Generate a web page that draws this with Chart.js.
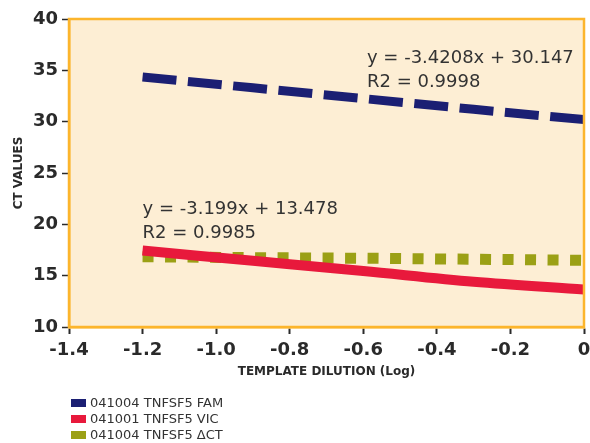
<!DOCTYPE html>
<html>
<head>
<meta charset="utf-8">
<script src="https://cdn.jsdelivr.net/npm/chart.js@4/dist/chart.umd.min.js"></script>
<style>
  html, body { margin: 0; padding: 0; background: #fff; }
</style>
</head>
<body>
<canvas id="canvas" width="590" height="443"></canvas>
<script>
'use strict'
/* global Chart */

const dilution = [-1.2, -0.9, -0.6, -0.3, 0]
const famCt = [34.35, 33.3, 32.25, 31.2, 30.2]
const vicCt = [17.45, 16.45, 15.45, 14.4, 13.65]
const deltaCt = [16.85, 16.75, 16.7, 16.6, 16.5]
const seriesLabels = ['041004 TNFSF5 FAM', '041001 TNFSF5 VIC', '041004 TNFSF5 \u0394CT']
const xTickLabels = ['-1.4', '-1.2', '-1.0', '-0.8', '-0.6', '-0.4', '-0.2', '0']
const yTickLabels = ['10', '15', '20', '25', '30', '35', '40']
const fitText = [
  ['y = -3.4208x + 30.147', 'R2 = 0.9998'],
  ['y = -3.199x + 13.478', 'R2 = 0.9985']
]

const FONT = '"DejaVu Sans", sans-serif'
const INK = '#2a2a2a'
const FRAME = '#fcb52c'

const toPoints = values => values.map((v, i) => ({ x: dilution[i], y: v }))

// background + orange frame round the plot area
const plotFrame = {
  id: 'plotFrame',
  beforeDraw (chart) {
    const { ctx, chartArea: a } = chart
    ctx.save()
    ctx.fillStyle = '#fdeed4'
    ctx.fillRect(a.left, a.top, a.right - a.left, a.bottom - a.top)
    ctx.restore()
  },
  afterDatasetsDraw (chart) {
    const { ctx, chartArea: a } = chart
    ctx.save()
    ctx.strokeStyle = FRAME
    ctx.lineWidth = 2.5
    ctx.strokeRect(a.left, a.top, a.right - a.left, a.bottom - a.top)
    ctx.restore()
  }
}

// regression text, anchored in data units
const fitLabels = {
  id: 'fitLabels',
  afterDatasetsDraw (chart, args, opts) {
    const { ctx, scales: { x, y } } = chart
    ctx.save()
    ctx.font = '18px ' + FONT
    ctx.fillStyle = '#333'
    ctx.textBaseline = 'alphabetic'
    opts.items.forEach(item => {
      const px = x.getPixelForValue(item.at[0])
      const py = y.getPixelForValue(item.at[1])
      item.lines.forEach((line, i) => ctx.fillText(line, px, py + i * 24))
    })
    ctx.restore()
  }
}

// stacked legend under the axis title
const listLegend = {
  id: 'listLegend',
  afterDraw (chart) {
    const ctx = chart.ctx
    ctx.save()
    ctx.font = '13px ' + FONT
    ctx.textBaseline = 'middle'
    chart.data.datasets.forEach((ds, i) => {
      const y = 403 + i * 16
      ctx.fillStyle = ds.borderColor
      ctx.fillRect(71, y - 4, 15, 8)
      ctx.fillStyle = '#333'
      ctx.fillText(ds.label, 90, y + 0.5)
    })
    ctx.restore()
  }
}

const ctx = document.getElementById('canvas').getContext('2d')
new Chart(ctx, {
  type: 'line',
  data: {
    datasets: [
      {
        label: seriesLabels[0],
        data: toPoints(famCt),
        borderColor: '#1b1f73',
        borderWidth: 9,
        borderDash: [34, 11.5],
        borderCapStyle: 'butt'
      },
      {
        label: seriesLabels[1],
        data: toPoints(vicCt),
        borderColor: '#e8193c',
        borderWidth: 10,
        cubicInterpolationMode: 'monotone'
      },
      {
        label: seriesLabels[2],
        data: toPoints(deltaCt),
        borderColor: '#9ba015',
        borderWidth: 11,
        borderDash: [11, 11.5],
        borderCapStyle: 'butt'
      }
    ]
  },
  options: {
    responsive: false,
    animation: false,
    events: [],
    elements: { point: { radius: 0 }, line: { fill: false } },
    layout: { padding: { top: 19, right: 6, bottom: 64, left: 0 } },
    plugins: {
      legend: { display: false },
      tooltip: { enabled: false },
      fitLabels: {
        items: [
          { at: [-0.59, 35.7], lines: fitText[0] },
          { at: [-1.2, 21.05], lines: fitText[1] }
        ]
      }
    },
    scales: {
      x: {
        type: 'linear',
        min: -1.4,
        max: 0,
        afterFit: scale => {
          scale.height = 52
          scale.paddingLeft = 0
          scale.paddingRight = 0
        },
        ticks: {
          stepSize: 0.2,
          padding: 6,
          color: INK,
          font: { family: FONT, size: 18, weight: 'bold' },
          callback: (v, i) => xTickLabels[i]
        },
        grid: { drawOnChartArea: false, tickLength: 7, tickColor: INK, tickWidth: 2 },
        border: { color: FRAME, width: 2.5 },
        title: {
          display: true,
          text: 'TEMPLATE DILUTION (Log)',
          color: INK,
          padding: { top: 0, bottom: 0 },
          font: { family: FONT, size: 12, weight: 'bold' }
        }
      },
      y: {
        min: 10,
        max: 40,
        afterFit: scale => { scale.width = 69 },
        ticks: {
          stepSize: 5,
          padding: 4,
          color: INK,
          font: { family: FONT, size: 18, weight: 'bold' },
          callback: (v, i) => yTickLabels[i]
        },
        grid: { drawOnChartArea: false, tickLength: 7, tickColor: INK, tickWidth: 1.5 },
        border: { color: FRAME, width: 2.5 },
        title: {
          display: true,
          text: 'CT VALUES',
          color: INK,
          padding: { top: 11.5, bottom: 0 },
          font: { family: FONT, size: 12, weight: 'bold' }
        }
      }
    }
  },
  plugins: [plotFrame, fitLabels, listLegend]
})
</script>
</body>
</html>
